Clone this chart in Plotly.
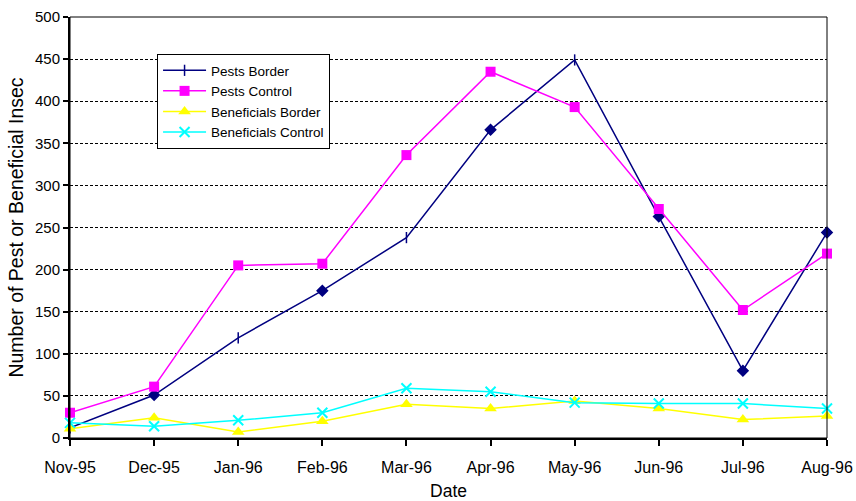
import plotly.graph_objects as go

# Monthly survey dates
dates = ["Nov-95", "Dec-95", "Jan-96", "Feb-96", "Mar-96",
         "Apr-96", "May-96", "Jun-96", "Jul-96", "Aug-96"]

# Insect counts per sampling date
pests_border = [12, 51, 119, 175, 238, 366, 449, 263, 80, 244]
pests_control = [30, 61, 205, 207, 336, 435, 393, 272, 152, 219]
beneficials_border = [11, 24, 7, 20, 40, 35, 44, 35, 22, 26]
beneficials_control = [18, 14, 21, 30, 59, 55, 42, 41, 41, 35]

y_ticks = list(range(0, 501, 50))

# Pests Border uses a tick mark on some dates and a diamond on others
pb_symbols = ["line-ns", "diamond", "line-ns", "diamond", "line-ns",
              "diamond", "line-ns", "diamond", "diamond", "diamond"]

FONT = "Liberation Sans, Arial, sans-serif"

fig = go.Figure()

fig.add_trace(go.Scatter(
    x=dates, y=pests_border, name="Pests Border", mode="lines+markers",
    line=dict(color="#000080", width=1.5),
    marker=dict(symbol=pb_symbols, size=8, color="#000080",
                line=dict(color="#000080", width=1.5)),
    cliponaxis=False,
))
fig.add_trace(go.Scatter(
    x=dates, y=pests_control, name="Pests Control", mode="lines+markers",
    line=dict(color="#FF00FF", width=1.5),
    marker=dict(symbol="square", size=10, color="#FF00FF"),
    cliponaxis=False,
))
fig.add_trace(go.Scatter(
    x=dates, y=beneficials_border, name="Beneficials Border", mode="lines+markers",
    line=dict(color="#FFFF00", width=1.5),
    marker=dict(symbol="triangle-up", size=11, color="#FFFF00"),
    cliponaxis=False,
))
fig.add_trace(go.Scatter(
    x=dates, y=beneficials_control, name="Beneficials Control", mode="lines+markers",
    line=dict(color="#00FFFF", width=1.5),
    marker=dict(symbol="x-thin", size=10, color="#00FFFF",
                line=dict(color="#00FFFF", width=2)),
    cliponaxis=False,
))

fig.update_layout(
    width=856, height=501,
    margin=dict(l=70, r=29, t=17, b=63),
    paper_bgcolor="white", plot_bgcolor="white",
    font=dict(family=FONT, size=15, color="black"),
    showlegend=True,
    legend=dict(
        x=0.115, y=0.912, xanchor="left", yanchor="top",
        bgcolor="white", bordercolor="black", borderwidth=1,
        font=dict(family=FONT, size=13.5, color="black"),
        tracegroupgap=0, itemwidth=43,
    ),
    xaxis=dict(
        type="category", range=[0, len(dates) - 1], automargin=False,
        showline=True, linecolor="black", linewidth=2,
        ticks="outside", ticklen=6, tickcolor="black", tickwidth=1.5,
        ticklabelstandoff=8,
        showgrid=False, zeroline=False,
        title=dict(text="Date", font=dict(family=FONT, size=17.5), standoff=14),
        tickfont=dict(family=FONT, size=16),
    ),
    yaxis=dict(
        range=[0, 500], tickvals=y_ticks, automargin=False,
        showline=True, linecolor="black", linewidth=2,
        ticks="outside", ticklen=5, tickcolor="black", tickwidth=1.5,
        showgrid=True, gridcolor="black", gridwidth=1.3, griddash="3px,2px",
        zeroline=False,
        title=dict(text="Number of Pest or Beneficial Insec",
                   font=dict(family=FONT, size=19.5), standoff=6),
        tickfont=dict(family=FONT, size=15),
    ),
    shapes=[dict(type="rect", xref="paper", yref="paper", x0=0, y0=0, x1=1, y1=1,
                 line=dict(color="black", width=1), fillcolor="rgba(0,0,0,0)",
                 layer="above")],
)

fig.write_html("out.html")
